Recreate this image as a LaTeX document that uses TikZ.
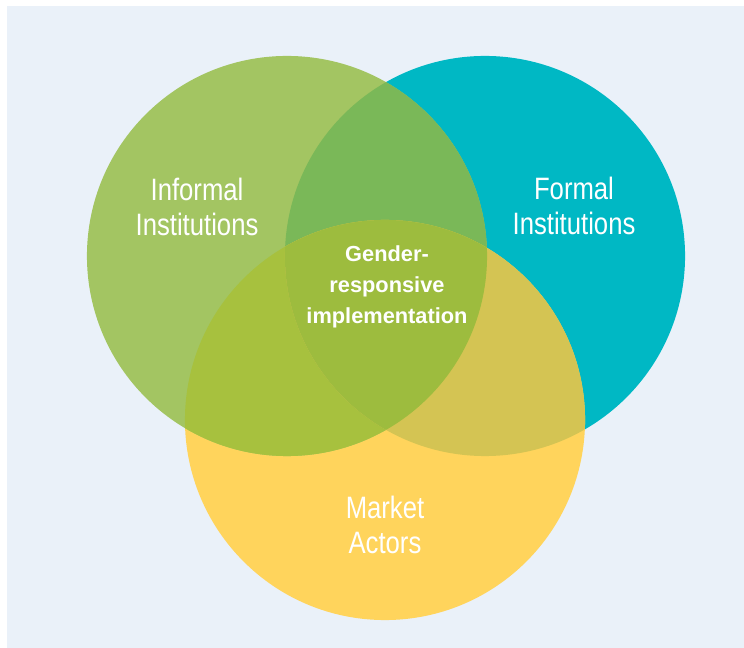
\documentclass[tikz,border=0pt]{standalone}
\usepackage{fontspec}
\newfontfamily\setfont[FakeStretch=0.83]{Liberation Sans}
\newfontfamily\corefont{Liberation Sans}
\usetikzlibrary{positioning}

\definecolor{bgblue}{HTML}{EAF1F9}
\definecolor{informalgreen}{HTML}{A3C562}
\definecolor{formalteal}{HTML}{00B8C4}
\definecolor{marketyellow}{HTML}{FFD45C}
\definecolor{greenteal}{HTML}{7AB858}
\definecolor{greenyellow}{HTML}{A7C13E}
\definecolor{tealyellow}{HTML}{D4C453}
\definecolor{allthree}{HTML}{9DBC3E}

\begin{document}
\begin{tikzpicture}[
    x=0.025cm, y=-0.025cm,
    % Styles
    venntext/.style={ % Name of one set
        text=white,
        align=center,
        font=\setfont\fontsize{22}{24.9}\selectfont
    },
    coretext/.style={ % Text of the common part
        text=white,
        align=center,
        font=\corefont\bfseries\fontsize{15.5}{22}\selectfont
    },
    set/.style={
        radius=5cm
    }
]

    % Background
    \useasboundingbox (0,0) rectangle (744,648);
    \fill[white] (0,0) rectangle (744,648);
    \fill[bgblue] (7,6) rectangle (744,648);

    % Centres
    \coordinate (informal) at (287,256);
    \coordinate (formal) at (485,256);
    \coordinate (market) at (385,420);

    % Sets
    \fill[formalteal] (formal) circle[set];
    \fill[marketyellow] (market) circle[set];
    \fill[informalgreen] (informal) circle[set];

    % Overlaps
    \begin{scope}
        \clip (informal) circle[set];
        \fill[greenteal] (formal) circle[set];
        \fill[greenyellow] (market) circle[set];
    \end{scope}
    \begin{scope}
        \clip (formal) circle[set];
        \fill[tealyellow] (market) circle[set];
        \clip (informal) circle[set];
        \fill[allthree] (market) circle[set];
    \end{scope}

    % Labels
    \node[venntext] (informal_label) at (197,207) {Informal\\Institutions};
    \node[venntext] (formal_label) at (574,206) {Formal\\Institutions};
    \node[venntext] (market_label) at (385,525) {Market\\Actors};
    \node[coretext] (core_label) at (387,287) {Gender-\\responsive\\implementation};
\end{tikzpicture}
\end{document}
